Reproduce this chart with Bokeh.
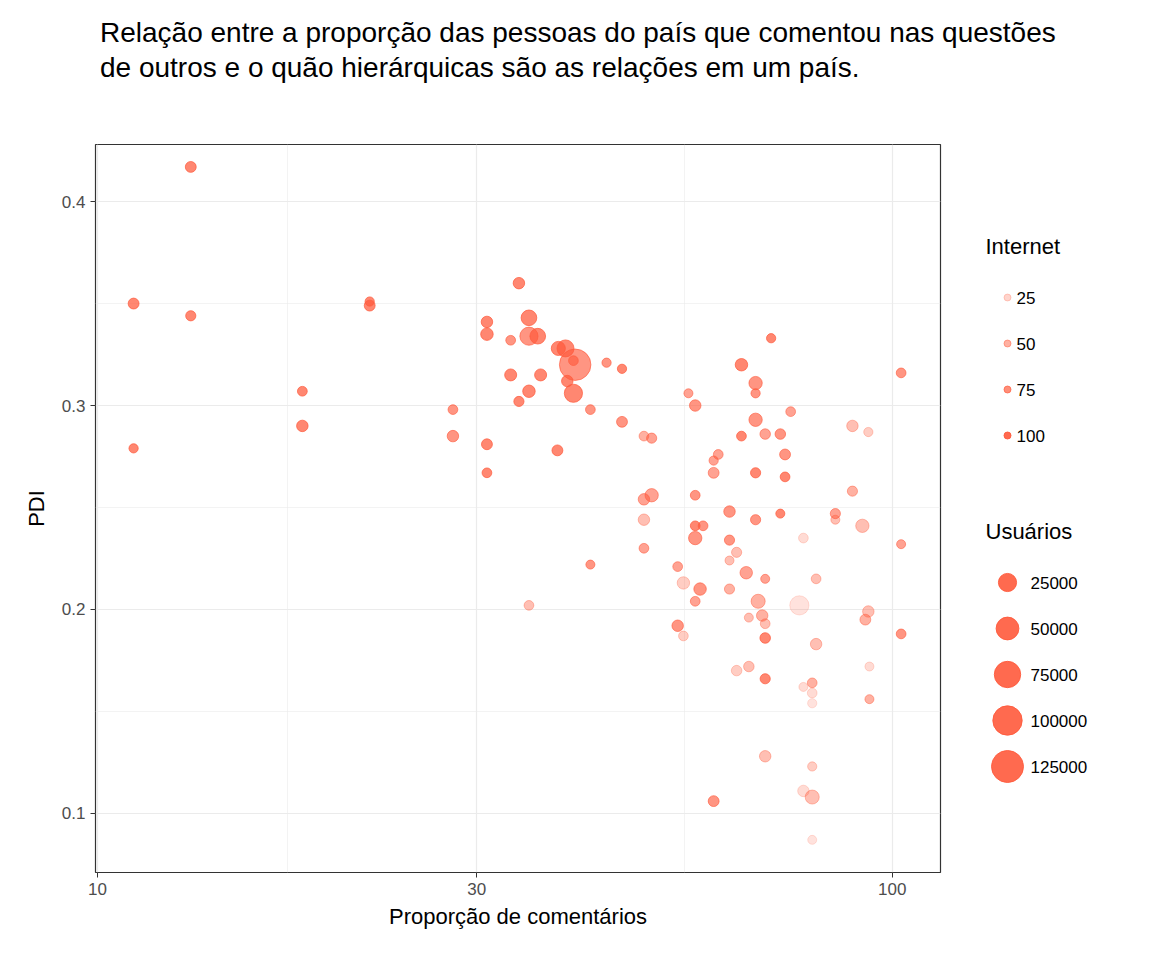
import numpy as np
from bokeh.plotting import figure
from bokeh.models import ColumnDataSource, FixedTicker, Div, Range1d
from bokeh.layouts import column, row
from bokeh.embed import file_html
from bokeh.resources import INLINE

prop = [13.1,11.1,13.1,11.1,22.0,22.0,18.1,18.1,28.0,28.0,33.9,30.9,30.9,33.1,34.9,34.9,35.8,38.0,38.8,39.9,39.7,
        36.1,33.1,34.9,33.9,39.0,39.7,30.9,30.9,37.9,41.7,43.7,45.7,45.7,48.7,49.8,49.8,48.7,48.7,48.7,41.7,34.9,
        54.6,53.7,53.7,54.6,55.4,56.5,56.5,59.6,60.4,59.6,56.5,57.8,56.5,57.3,56.5,62.4,62.4,63.7,62.4,65.5,62.4,
        64.6,67.3,67.3,70.4,74.5,64.6,67.3,69.2,72.3,67.3,73.3,73.3,72.3,67.3,69.2,67.8,66.0,68.6,69.2,69.2,69.2,
        66.0,63.7,59.6,69.2,76.4,77.3,79.3,80.2,80.2,77.3,79.3,79.3,79.3,77.3,79.3,79.3,89.1,89.1,84.8,84.8,91.7,
        93.3,93.3,92.5,93.6,93.6,102.6,102.6,102.6]
pdi = [0.417,0.350,0.344,0.279,0.351,0.349,0.307,0.290,0.298,0.285,0.360,0.341,0.335,0.332,0.343,0.334,0.334,0.328,0.328,0.320,0.306,
       0.315,0.315,0.307,0.302,0.312,0.322,0.281,0.267,0.278,0.298,0.321,0.318,0.292,0.285,0.284,0.256,0.254,0.244,0.230,0.222,0.202,
       0.213,0.221,0.192,0.187,0.306,0.300,0.256,0.273,0.276,0.267,0.241,0.241,0.235,0.210,0.204,0.248,0.234,0.228,0.224,0.218,0.210,
       0.320,0.311,0.306,0.333,0.297,0.285,0.293,0.286,0.286,0.267,0.276,0.265,0.247,0.244,0.215,0.204,0.196,0.197,0.193,0.186,0.166,
       0.172,0.170,0.106,0.128,0.202,0.235,0.164,0.183,0.215,0.162,0.159,0.154,0.123,0.111,0.108,0.087,0.290,0.258,0.247,0.244,0.241,
       0.287,0.199,0.195,0.172,0.156,0.316,0.232,0.188]
internet = [80,80,80,80,80,80,80,80,70,70,80,80,80,70,80,70,80,80,80,70,80,
            80,80,80,80,80,70,80,80,80,70,70,80,70,50,60,60,60,40,60,70,40,
            30,60,70,30,60,70,70,60,60,60,80,70,70,70,60,70,70,40,40,60,50,
            80,70,70,80,60,80,70,60,70,80,70,80,80,70,60,50,40,50,40,80,80,
            40,30,70,40,15,20,50,40,40,20,20,15,30,20,40,15,40,50,60,40,40,
            30,40,50,20,50,70,60,70]
users = [3000,3000,2000,1000,1000,3000,1500,4000,1500,4000,4000,4000,6000,1500,15000,25000,15000,10000,20000,120000,25000,
         5000,5000,6000,2000,4000,1500,3000,1500,3000,1500,1000,1000,3000,1500,2000,8000,4000,4000,1500,800,1500,
         6000,1500,4000,1500,800,4000,1500,1000,1500,3000,1500,1500,8000,6000,1500,4000,2000,2000,800,6000,2000,
         6000,8000,1000,1000,1500,1500,8000,2500,2500,2000,3000,1500,800,2000,800,10000,800,4000,1500,2500,2000,
         2500,2500,3000,4000,30000,1500,1500,4000,1500,800,1500,1000,1000,4000,10000,800,4000,2000,2000,800,8000,
         1000,4000,3000,800,800,1500,800,1500]

n = min(len(prop), len(pdi), len(internet), len(users))
prop, pdi, internet, users = prop[:n], pdi[:n], internet[:n], users[:n]

COLOR = "#FF5A3C"
UMAX = 125000
def sz(u): return 7 + 25 * np.sqrt(np.asarray(u) / UMAX)
def al(i): return 0.05 + 0.85 * np.asarray(i) / 100

src = ColumnDataSource(dict(x=prop, y=pdi, s=sz(users), a=al(internet)))

H = 830
BT, BB = 22, 80
p = figure(width=948, height=H, x_axis_type="log", output_backend="svg", toolbar_location=None,
           x_range=Range1d(9.94, 115), y_range=Range1d(0.071, 0.428),
           min_border_left=95, min_border_right=8, min_border_top=BT, min_border_bottom=BB)
p.scatter("x", "y", size="s", fill_color=COLOR, line_color=COLOR, fill_alpha="a", line_alpha="a", source=src)

p.xaxis.ticker = FixedTicker(ticks=[10, 30, 100], minor_ticks=[17.32, 54.77])
p.yaxis.ticker = FixedTicker(ticks=[0.1, 0.2, 0.3, 0.4], minor_ticks=[0.15, 0.25, 0.35])
p.xaxis.axis_label = "Proporção de comentários"
p.yaxis.axis_label = "PDI"
for ax in (p.xaxis, p.yaxis):
    ax.axis_label_text_font = "Liberation Sans"
    ax.axis_label_text_font_size = "22px"
    ax.axis_label_text_font_style = "normal"
    ax.axis_label_text_color = "black"
    ax.major_label_text_font = "Liberation Sans"
    ax.major_label_text_font_size = "17px"
    ax.major_label_text_color = "#4D4D4D"
    ax.minor_tick_line_color = None
    ax.axis_line_color = None
    ax.major_tick_line_color = "#333333"
    ax.major_tick_out = 5
    ax.major_tick_in = 0
p.yaxis.major_label_orientation = "horizontal"
p.xaxis.axis_label_standoff = 6
p.yaxis.axis_label_standoff = 10
for g in (p.xgrid, p.ygrid):
    g.grid_line_color = "#EBEBEB"
    g.grid_line_width = 1.2
    g.minor_grid_line_color = "#EBEBEB"
    g.minor_grid_line_width = 0.6
p.outline_line_color = "#333333"
p.outline_line_width = 1.2

# legend figure (ranges in page pixel coordinates of its frame)
LW = 188
leg = figure(width=LW, height=H, output_backend="svg", toolbar_location=None,
             x_range=Range1d(948, 948 + LW), y_range=Range1d(870, 142),
             min_border_left=0, min_border_right=0, min_border_top=BT, min_border_bottom=BB)
leg.axis.visible = False
leg.grid.visible = False
leg.outline_line_color = None

int_levels = [25, 50, 75, 100]
user_levels = [25000, 50000, 75000, 100000, 125000]
iy = [295, 341, 387, 433]
uy = [580, 626, 672, 718, 764]
F = {"value": "Liberation Sans"}

leg.text(x=[985], y=[244], text=["Internet"], text_font_size="22px", text_baseline="middle", text_font=F)
leg.scatter(x=[1007]*4, y=iy, size=7, fill_color=COLOR, line_color=COLOR,
            fill_alpha=list(al(int_levels)), line_alpha=list(al(int_levels)))
leg.text(x=[1016]*4, y=iy, text=[str(v) for v in int_levels], text_font_size="17px",
         text_baseline="middle", text_font=F)
leg.text(x=[985], y=[529], text=["Usuários"], text_font_size="22px", text_baseline="middle", text_font=F)
leg.scatter(x=[1007]*5, y=uy, size=list(sz(user_levels)), fill_color=COLOR, line_color=COLOR, alpha=0.9)
leg.text(x=[1030]*5, y=uy, text=[str(v) for v in user_levels], text_font_size="17px",
         text_baseline="middle", text_font=F)

title = Div(text="Relação entre a proporção das pessoas do país que comentou nas questões<br>"
                 "de outros e o quão hierárquicas são as relações em um país.",
            width=1136, height=112,
            styles={"font-family": "Liberation Sans, Arial", "font-size": "28px", "line-height": "35px",
                    "padding-left": "95px", "padding-top": "10px", "white-space": "nowrap",
                    "overflow": "hidden", "color": "black"})

layout = column(title, row(p, leg, spacing=0), spacing=0)
open("out.html", "w").write(file_html(layout, INLINE))
